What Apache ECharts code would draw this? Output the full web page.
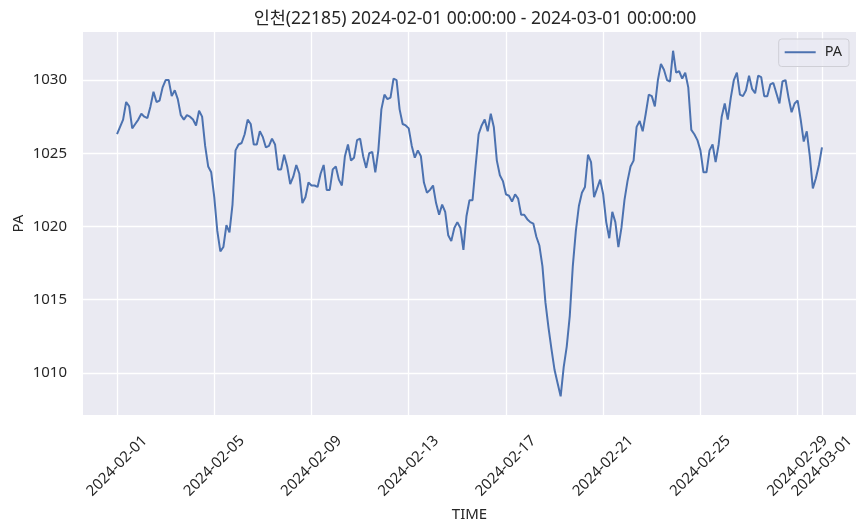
<!DOCTYPE html>
<html>
<head>
<meta charset="utf-8">
<script src="https://cdn.jsdelivr.net/npm/echarts@6/dist/echarts.min.js"></script>
<style>
  html, body { margin: 0; padding: 0; background: #fff; }
  #chart { width: 867px; height: 532px; }
</style>
</head>
<body>
<div id="chart"></div>
<script>
// 관측 지점, 기간
const stationTitle = "인천(22185) 2024-02-01 00:00:00 - 2024-03-01 00:00:00"
const startTime = "2024-02-01T00:00:00Z"
const stepHours = 3
// 기압 (hPa), 3시간 간격
const pa = [
  1026.3, 1026.8, 1027.3, 1028.5, 1028.2, 1026.7, 1027.0, 1027.3, 1027.7, 1027.5,
  1027.4, 1028.2, 1029.2, 1028.5, 1028.6, 1029.5, 1030.0, 1030.0, 1028.9, 1029.3,
  1028.7, 1027.6, 1027.3, 1027.6, 1027.5, 1027.3, 1026.9, 1027.9, 1027.5, 1025.5,
  1024.1, 1023.7, 1022.0, 1019.7, 1018.3, 1018.6, 1020.1, 1019.6, 1021.5, 1025.2,
  1025.6, 1025.7, 1026.3, 1027.3, 1027.0, 1025.6, 1025.6, 1026.5, 1026.1, 1025.4,
  1025.5, 1026.0, 1025.6, 1023.9, 1023.9, 1024.9, 1024.1, 1022.9, 1023.4, 1024.2,
  1023.6, 1021.6, 1022.0, 1023.0, 1022.8, 1022.8, 1022.7, 1023.6, 1024.2, 1022.5,
  1022.5, 1023.9, 1024.1, 1023.2, 1022.8, 1024.8, 1025.6, 1024.5, 1024.7, 1025.9,
  1026.0, 1024.8, 1024.0, 1025.0, 1025.1, 1023.7, 1025.2, 1028.0, 1029.0, 1028.7,
  1028.8, 1030.1, 1030.0, 1028.0, 1027.0, 1026.9, 1026.7, 1025.5, 1024.7, 1025.2,
  1024.8, 1023.0, 1022.3, 1022.5, 1022.8, 1021.6, 1020.8, 1021.5, 1021.0, 1019.4,
  1019.0, 1019.9, 1020.3, 1019.9, 1018.4, 1020.7, 1021.8, 1021.8, 1024.1, 1026.3,
  1026.9, 1027.3, 1026.5, 1027.7, 1026.8, 1024.5, 1023.5, 1023.1, 1022.2, 1022.1,
  1021.7, 1022.2, 1021.9, 1020.8, 1020.8, 1020.5, 1020.3, 1020.2, 1019.3, 1018.7,
  1017.3, 1014.8, 1013.1, 1011.6, 1010.2, 1009.3, 1008.4, 1010.4, 1011.8, 1013.9,
  1017.3, 1019.7, 1021.4, 1022.3, 1022.7, 1024.9, 1024.4, 1022.0, 1022.6, 1023.2,
  1022.2, 1020.3, 1019.2, 1021.0, 1020.3, 1018.6, 1019.9, 1021.8, 1023.1, 1024.1,
  1024.5, 1026.8, 1027.2, 1026.5, 1027.7, 1029.0, 1028.9, 1028.2, 1030.0, 1031.1,
  1030.7, 1030.0, 1029.9, 1032.0, 1030.5, 1030.6, 1030.1, 1030.5, 1029.5, 1026.6,
  1026.3, 1025.9, 1025.2, 1023.7, 1023.7, 1025.2, 1025.6, 1024.4, 1025.6, 1027.5,
  1028.4, 1027.3, 1028.8, 1030.0, 1030.5, 1029.0, 1028.9, 1029.3, 1030.3, 1029.4,
  1029.1, 1030.3, 1030.2, 1028.9, 1028.9, 1029.7, 1029.8, 1029.1, 1028.4, 1029.9,
  1030.0, 1028.8, 1027.8, 1028.4, 1028.6, 1027.3, 1025.8, 1026.5, 1024.8, 1022.6,
  1023.3, 1024.2, 1025.4
]
// 축 눈금
const xTicks = ["2024-02-01", "2024-02-05", "2024-02-09", "2024-02-13", "2024-02-17",
  "2024-02-21", "2024-02-25", "2024-02-29", "2024-03-01"]
const yTicks = [1010, 1015, 1020, 1025, 1030]

const HOUR = 3600 * 1000
const t0 = Date.parse(startTime)
const seriesData = pa.map((v, i) => [t0 + i * stepHours * HOUR, v])
const tickTimes = xTicks.map((d) => Date.parse(d + "T00:00:00Z"))
const pad = 33.6 * HOUR

const font = "'Noto Sans', 'Noto Sans CJK KR', sans-serif"
const textColor = "#262626"

var myChart = echarts.init(document.getElementById("chart"))
let option = {
  animation: false,
  backgroundColor: "#ffffff",
  textStyle: { fontFamily: font },
  title: {
    text: stationTitle,
    left: 470,
    top: 5,
    textAlign: "center",
    textStyle: { fontFamily: font, fontSize: 17.5, fontWeight: "normal", color: textColor }
  },
  legend: {
    right: 18,
    top: 39,
    padding: [6, 7, 7, 6],
    icon: "rect",
    itemWidth: 31,
    itemHeight: 2,
    backgroundColor: "rgba(234,234,242,0.8)",
    borderColor: "#cfcfd6",
    borderWidth: 1,
    borderRadius: 3,
    textStyle: { fontFamily: font, fontSize: 14.5, color: textColor, padding: [0, 0, 0, 4] },
    data: ["PA"]
  },
  grid: {
    left: 83,
    right: 11,
    top: 32,
    bottom: 117,
    show: true,
    backgroundColor: "#EAEAF2",
    borderWidth: 0
  },
  xAxis: {
    type: "value",
    min: t0 - pad,
    max: tickTimes[tickTimes.length - 1] + pad,
    name: "TIME",
    nameLocation: "middle",
    nameGap: 92,
    nameMoveOverlap: false,
    nameTextStyle: { fontFamily: font, fontSize: 15, color: textColor },
    axisLine: { show: false },
    axisTick: { show: false, customValues: tickTimes },
    axisLabel: {
      customValues: tickTimes,
      rotate: 45,
      align: "center",
      verticalAlign: "middle",
      margin: 51,
      fontFamily: font,
      fontSize: 15,
      color: textColor,
      formatter: (val) => {
        const d = new Date(val)
        const mm = String(d.getUTCMonth() + 1).padStart(2, "0")
        const dd = String(d.getUTCDate()).padStart(2, "0")
        return d.getUTCFullYear() + "-" + mm + "-" + dd
      }
    },
    splitLine: { show: true, lineStyle: { color: "#ffffff", width: 1.3 } }
  },
  yAxis: {
    type: "value",
    min: 1007.13,
    max: 1033.28,
    name: "PA",
    nameLocation: "middle",
    nameGap: 57,
    nameMoveOverlap: false,
    nameTextStyle: { fontFamily: font, fontSize: 15, color: textColor },
    axisLine: { show: false },
    axisTick: { show: false, customValues: yTicks },
    axisLabel: {
      customValues: yTicks,
      margin: 16,
      fontFamily: font,
      fontSize: 15,
      color: textColor,
      formatter: (val) => String(val)
    },
    splitLine: { show: true, lineStyle: { color: "#ffffff", width: 1.3 } }
  },
  series: [
    {
      name: "PA",
      type: "line",
      data: seriesData,
      symbol: "none",
      showSymbol: false,
      lineStyle: { color: "#4C72B0", width: 2 },
      itemStyle: { color: "#4C72B0" }
    }
  ]
}
myChart.setOption(option)
</script>
</body>
</html>
